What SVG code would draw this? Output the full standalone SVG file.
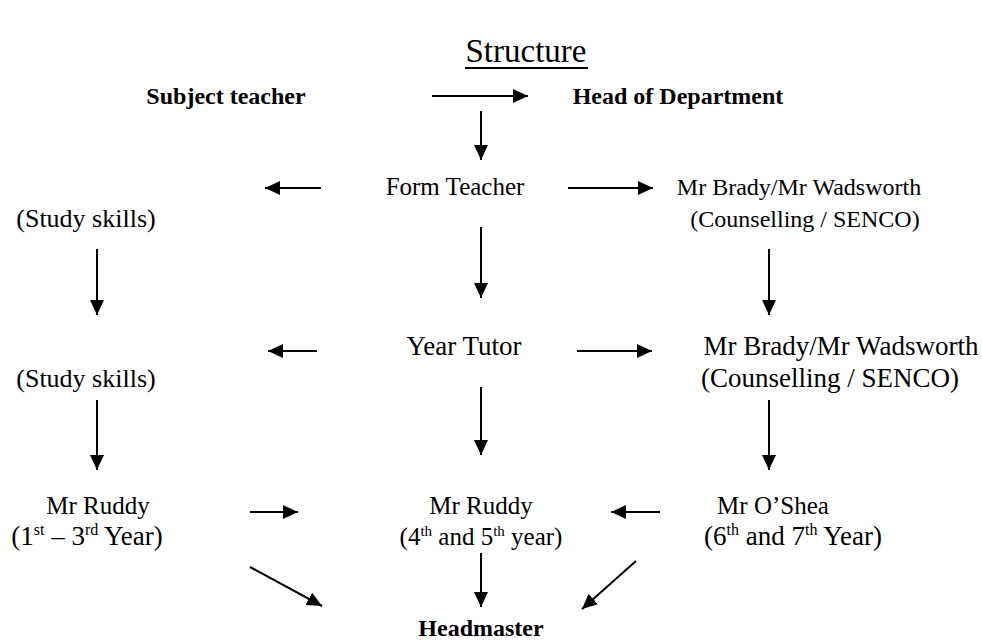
<svg xmlns="http://www.w3.org/2000/svg" width="982" height="640" viewBox="0 0 982 640">
<style>
text{font-family:"Liberation Serif","Times New Roman",serif;fill:#000;text-anchor:middle}
.t{font-size:25px}
.u{font-size:27px}
.w{font-size:26px}
.v{font-size:24px}
.b{font-size:24px;font-weight:bold}
.h{font-size:33px}
.c{stroke:#000;stroke-width:2;fill:none;marker-end:url(#ah)}
.s{font-size:15px}
.s2{font-size:16px}
</style>
<defs>
<marker id="ah" markerUnits="userSpaceOnUse" markerWidth="16" markerHeight="14" refX="15" refY="7" orient="auto">
<path d="M0,0 L15,7 L0,14 Z" fill="#000"/>
</marker>
</defs>
<rect width="982" height="640" fill="#fff"/>
<g id="title">
<text class="h" x="526" y="62">Structure</text>
<line x1="465" y1="68" x2="588" y2="68" stroke="#000" stroke-width="2"/>
</g>
<g id="subject-teacher"><text class="b" x="226" y="104">Subject teacher</text></g>
<g id="head-of-department"><text class="b" x="678" y="104">Head of Department</text></g>
<g id="form-teacher"><text class="t" x="455" y="195">Form Teacher</text></g>
<g id="counselling-1"><text class="v" x="799" y="195">Mr Brady/Mr Wadsworth</text><text class="v" x="805" y="227">(Counselling / SENCO)</text></g>
<g id="study-skills-1"><text class="w" x="86" y="227">(Study skills)</text></g>
<g id="year-tutor"><text class="u" x="464" y="355">Year Tutor</text></g>
<g id="counselling-2"><text class="u" x="841" y="355">Mr Brady/Mr Wadsworth</text><text class="u" x="830" y="387">(Counselling / SENCO)</text></g>
<g id="study-skills-2"><text class="w" x="86" y="387">(Study skills)</text></g>
<g id="ruddy-1"><text class="t" x="98" y="514">Mr Ruddy</text><text class="u" x="87" y="545">(1<tspan class="s2" dy="-10">st</tspan><tspan dy="10"> – 3</tspan><tspan class="s2" dy="-10">rd</tspan><tspan dy="10"> Year)</tspan></text></g>
<g id="ruddy-2"><text class="t" x="481" y="514">Mr Ruddy</text><text class="t" x="481" y="545">(4<tspan class="s" dy="-9">th</tspan><tspan dy="9"> and 5</tspan><tspan class="s" dy="-9">th</tspan><tspan dy="9"> year)</tspan></text></g>
<g id="oshea"><text class="t" x="773" y="514">Mr O’Shea</text><text class="u" x="793" y="545">(6<tspan class="s2" dy="-10">th</tspan><tspan dy="10"> and 7</tspan><tspan class="s2" dy="-10">th</tspan><tspan dy="10"> Year)</tspan></text></g>
<g id="headmaster"><text class="b" x="481" y="636">Headmaster</text></g>
<g id="connectors">
<line class="c" x1="432" y1="96" x2="528" y2="96"/>
<line class="c" x1="481" y1="111" x2="481" y2="160"/>
<line class="c" x1="321" y1="188" x2="265" y2="188"/>
<line class="c" x1="568" y1="188" x2="653" y2="188"/>
<line class="c" x1="97" y1="249" x2="97" y2="315"/>
<line class="c" x1="481" y1="227" x2="481" y2="298"/>
<line class="c" x1="769" y1="249" x2="769" y2="315"/>
<line class="c" x1="317" y1="351" x2="268" y2="351"/>
<line class="c" x1="577" y1="351" x2="652" y2="351"/>
<line class="c" x1="97" y1="400" x2="97" y2="470"/>
<line class="c" x1="481" y1="387" x2="481" y2="455"/>
<line class="c" x1="769" y1="400" x2="769" y2="470"/>
<line class="c" x1="250" y1="512" x2="298" y2="512"/>
<line class="c" x1="660" y1="512" x2="611" y2="512"/>
<line class="c" x1="250" y1="567" x2="322" y2="606"/>
<line class="c" x1="481" y1="553" x2="481" y2="607"/>
<line class="c" x1="636" y1="561" x2="582" y2="609"/>
</g>
</svg>
